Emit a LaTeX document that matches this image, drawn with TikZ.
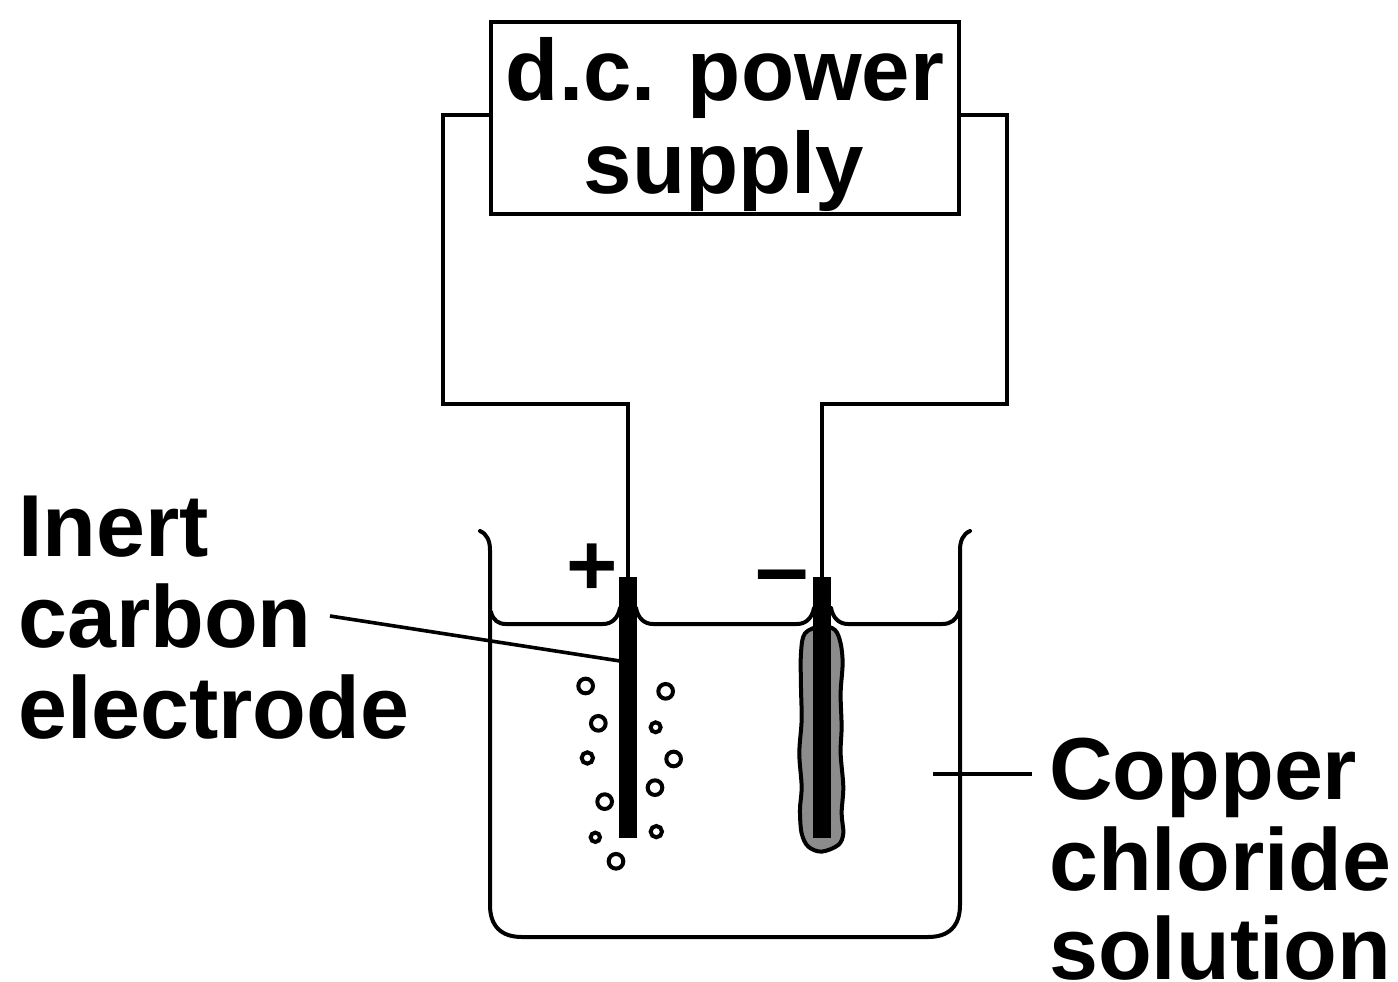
\documentclass[tikz,border=0pt]{standalone}
\usepackage{fontspec}
\setmainfont{Liberation Sans}[BoldFont={Liberation Sans Bold}]
\newcommand{\bigfont}{\fontsize{88}{92}\bfseries\selectfont}
\newcommand{\boxfont}{\fontsize{87}{92}\bfseries\selectfont}
\newcommand{\minusfont}{\fontsize{96}{96}\bfseries\selectfont}
\tikzset{
  x=1pt,y=-1pt,
  lbl/.style={anchor=base west,inner sep=0pt,font=\bigfont},
  ctr/.style={anchor=base,inner sep=0pt,font=\boxfont},
  wire/.style={line width=3.4pt,line join=miter},
  glass/.style={line width=4pt,line cap=round,line join=round},
  rod/.style={fill=black,draw=none,minimum width=17.5pt,minimum height=261pt,inner sep=0pt},
  bubble/.style={line width=4pt,draw=black,fill=white},
}
\begin{document}
\begin{tikzpicture}
\useasboundingbox (0,0) rectangle (1398,982);
\fill[white] (0,0) rectangle (1398,982);
% solution surface and beaker
\draw[glass] (480,531) .. controls (487,534) and (490,541) .. (490,550) -- (490,905)
  .. controls (490,926) and (501,937) .. (522,937) -- (928,937)
  .. controls (949,937) and (960,926) .. (960,905) -- (960,550)
  .. controls (960,541) and (963,534) .. (970,531);
\draw[glass] (491,612) .. controls (493,620) and (498,624) .. (506,624) -- (603,624)
  .. controls (612,624) and (618,618) .. (620,608);
\draw[glass] (636,608) .. controls (638,618) and (644,624) .. (653,624) -- (797,624)
  .. controls (806,624) and (812,618) .. (814,608);
\draw[glass] (831,608) .. controls (833,618) and (839,624) .. (848,624) -- (942,624)
  .. controls (951,624) and (956,620) .. (959,612);
% copper coating
\begin{scope}[shift={(470,520)},x=0.3333pt,y=-0.3333pt]
\draw[line width=4pt,fill=black!45,line join=round] plot[smooth cycle,tension=0.55] coordinates {
 (1055,318) (1095,330) (1112,370) (1118,430) (1112,520) (1115,620) (1112,700) (1120,800)
 (1115,880) (1120,940) (1105,975) (1055,995) (1015,980) (995,940) (990,870) (995,800)
 (988,700) (995,600) (993,500) (993,400) (1005,340)};
\foreach \cx/\cy/\r in {347/498/22,587/514/22,385/610/22,557/622/15,352/714/17,611/717/22,555/803/22,404/845/22,559/935/17,376/952/14,438/1024/22}
  \draw[bubble] (\cx,\cy) circle[radius=\r];
\end{scope}
% electrodes
\node[rod] (anode) at (628,707.5) {};
\node[rod] (cathode) at (822,707.5) {};
% power supply
\node[draw,line width=3.4pt,minimum width=468pt,minimum height=192pt,inner sep=0pt] (supply) at (725,118) {};
\node[ctr] (t1) at (725,100) {d.c. power};
\node[ctr] (t2) at (724,193) {supply};
\coordinate (wl) at (supply.west |- 0,115);
\coordinate (wr) at (supply.east |- 0,115);
\draw[wire] (wl) -- (443,115) -- (443,404) -- (628,404) -- (anode.north);
\draw[wire] (wr) -- (1007,115) -- (1007,404) -- (822,404) -- (cathode.north);
% signs
\node[anchor=base,inner sep=0pt,font=\bigfont] (plus) at (592,595) {+};
\node[anchor=base,inner sep=0pt,font=\minusfont] (minus) at (782,600) {–};
% labels
\node[lbl] (i1) at (18,556) {Inert};
\node[lbl] (i2) at (18,647) {carbon};
\node[lbl] (i3) at (18,738) {electrode};
\node[lbl] (c1) at (1049,799) {Copper};
\node[lbl] (c2) at (1049,890) {chloride};
\node[lbl] (c3) at (1049,979) {solution};
% leaders
\coordinate (la) at (330,616);
\coordinate (lb) at (620,661);
\coordinate (lc) at (933,774);
\coordinate (ld) at (1032,774);
\draw[line width=3.6pt] (la) -- (lb);
\draw[line width=3.4pt] (lc) -- (ld);
\end{tikzpicture}
\end{document}
